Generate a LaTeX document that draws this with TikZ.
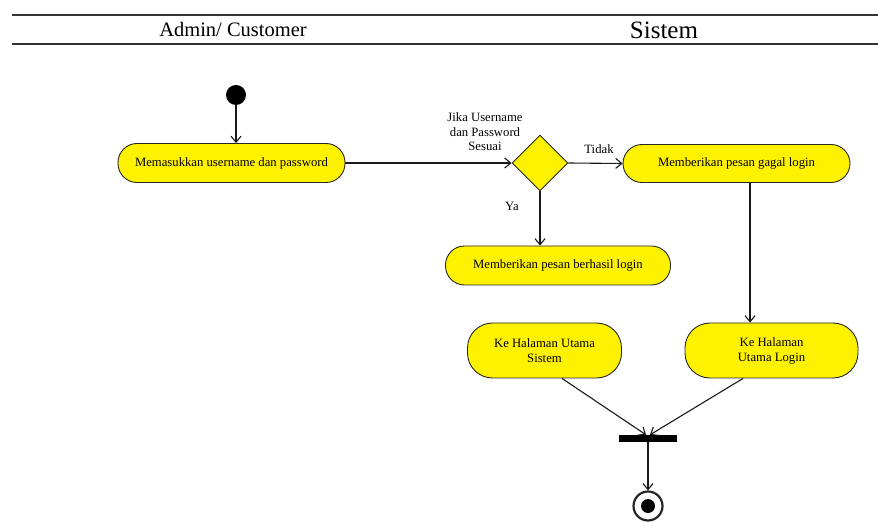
\documentclass[tikz,border=0pt]{standalone}
\usepackage{fontspec}
\setmainfont{Liberation Serif}
\usetikzlibrary{arrows.meta,shapes.geometric,calc}
\begin{document}
\begin{tikzpicture}[x=1pt,y=-1pt,
  act/.style={draw=black!85, line width=0.9pt, fill=yellow, rounded corners=#1,
    inner sep=0pt, align=center, font=\fontsize{12.7}{15}\selectfont},
  act/.default=19pt,
  flow/.style={line width=1.1pt, draw=black!90,
    -{Straight Barb[length=6pt,width=10pt,line width=1.1pt]}},
  lbl/.style={font=\fontsize{12.7}{14.5}\selectfont, inner sep=0pt, align=center},
  lane/.style={inner sep=0pt, anchor=base},
  sep/.style={line width=1.6pt, draw=black!80}]

% canvas
\useasboundingbox (0,0) rectangle (878,526);

% swimlane header
\draw[sep] (12,15) -- (878,15);
\draw[sep] (12,44) -- (878,44);
\node[lane, font=\fontsize{20.5}{24}\selectfont] (laneuser) at (233,37) {Admin/ Customer};
\node[lane, font=\fontsize{25}{28}\selectfont] (lanesys) at (664,38.3) {Sistem};

% initial node
\node[circle, fill=black, minimum size=20pt, inner sep=0pt] (start) at (236,95) {};

% actions
\node[act, minimum width=227pt, minimum height=39pt] (inp) at (231.5,163)
  {Memasukkan username dan password};
\node[diamond, draw=black!85, line width=0.9pt, fill=yellow, aspect=1,
  minimum width=56pt, minimum height=56pt, inner sep=0pt] (dec) at (540,163) {};
\node[act, minimum width=227pt, minimum height=38pt] (fail) at (736.5,163.5)
  {Memberikan pesan gagal login};
\node[act, minimum width=225pt, minimum height=39pt] (ok) at (558,265.5)
  {Memberikan pesan berhasil login};
\node[act=25pt, minimum width=154pt, minimum height=55pt] (home) at (544.5,350.5)
  {Ke Halaman Utama\\Sistem};
\node[act=25pt, minimum width=173pt, minimum height=55pt] (login) at (771.5,350.5)
  {Ke Halaman\\Utama Login};

% join bar and final node
\node[fill=black, minimum width=58pt, minimum height=7pt, inner sep=0pt] (bar) at (648,438.5) {};
\node[circle, draw=black!85, line width=2.2pt, minimum size=29pt, inner sep=0pt] (end) at (648,506) {};
\node[circle, fill=black, minimum size=14pt, inner sep=0pt] (endcore) at (end) {};

% guard labels
\node[lbl] (guard) at (485,132) {Jika Username\\dan Password\\Sesuai};
\node[lbl] (no) at (599,149) {Tidak};
\node[lbl] (yes) at (512,206) {Ya};

% flows
\draw[flow] (start) -- (start |- inp.north);
\draw[flow] (inp.east) -- (dec.west);
\draw[flow] (dec.east) -- (fail.west);
\draw[flow] (dec.south) -- (dec.south |- ok.north);
\draw[flow] ($(fail.south)+(13.5,0)$) coordinate (fs) -- (fs |- login.north);
\draw[flow] ($(home.south)+(17.5,0)$) -- ($(bar.north)+(-2,0)$);
\draw[flow] ($(login.south)+(-28.5,0)$) -- ($(bar.north)+(2,0)$);
\draw[flow] (bar.south) -- (end.north);
\end{tikzpicture}
\end{document}
